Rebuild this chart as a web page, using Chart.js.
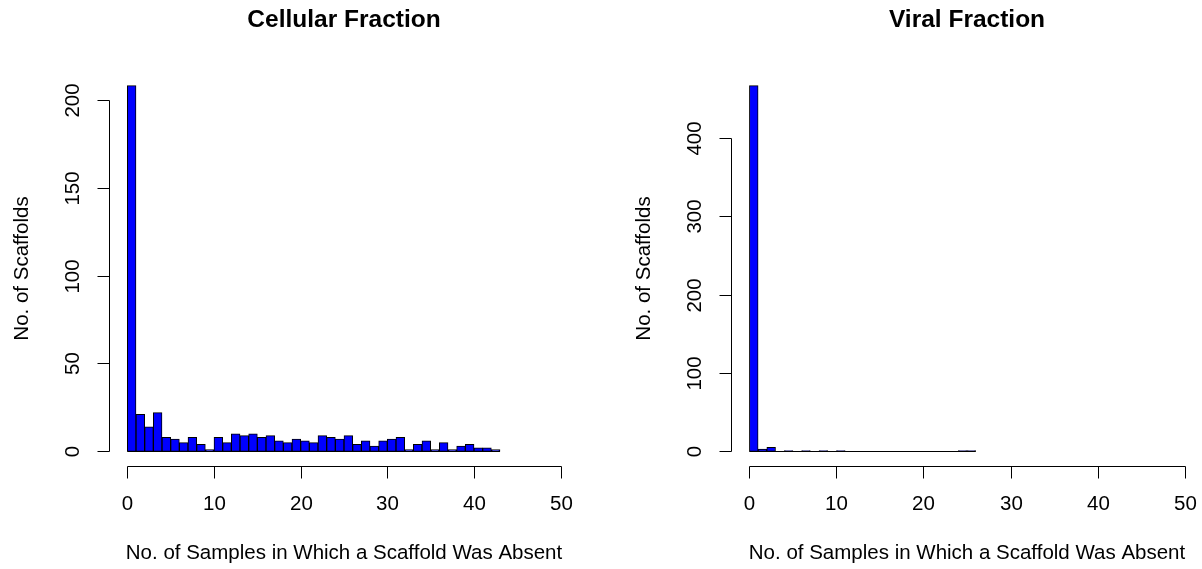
<!DOCTYPE html>
<html>
<head>
<meta charset="utf-8">
<script src="https://cdn.jsdelivr.net/npm/chart.js@4/dist/chart.umd.min.js"></script>
<style>
  body { margin: 0; background: #fff; }
  .panel { position: absolute; top: 0; }
</style>
</head>
<body>
<div class="panel" style="left:0"><canvas id="cellular" width="601" height="569"></canvas></div>
<div class="panel" style="left:601px"><canvas id="viral" width="601" height="569"></canvas></div>
<script>
// histogram counts, one value per 1-sample bin starting at 0
const cellularCounts = [208, 21, 14, 22, 8, 7, 5, 8, 4, 1, 8, 5, 10, 9, 10, 8, 9, 6, 5, 7, 6, 5,
  9, 8, 7, 9, 4, 6, 3, 6, 7, 8, 1, 4, 6, 1, 5, 1, 3, 4, 2, 2, 1];
const viralCounts = [467, 3, 5, 0, 1, 0, 1, 0, 1, 0, 1, 0, 0, 0, 0, 0, 0, 0, 0, 0, 0, 0, 0, 0, 1, 1];

const xTicks = [0, 10, 20, 30, 40, 50];
const cellularYTicks = [0, 50, 100, 150, 200];
const viralYTicks = [0, 100, 200, 300, 400];

const xTitle = 'No. of Samples in Which a Scaffold Was Absent';
const yTitle = 'No. of Scaffolds';
const FONT = '"Liberation Sans", Arial, Helvetica, sans-serif';

// base-graphics style axes: detached lines spanning first..last tick
const rAxes = {
  id: 'rAxes',
  afterDraw(chart, args, opts) {
    const {ctx, chartArea, scales: {x, y}} = chart;
    ctx.save();
    ctx.strokeStyle = '#000';
    ctx.fillStyle = '#000';
    ctx.lineWidth = 1;

    // bottom edge of the bars (zero-count bins show as a line)
    const y0 = Math.round(y.getPixelForValue(0)) + 0.5;
    ctx.beginPath();
    ctx.moveTo(x.getPixelForValue(0), y0);
    ctx.lineTo(x.getPixelForValue(opts.nBins), y0);
    ctx.stroke();

    // x axis
    const xb = Math.round(chartArea.bottom) + 0.5;
    const xs = opts.xTicks.map(v => Math.round(x.getPixelForValue(v)) + 0.5);
    ctx.beginPath();
    ctx.moveTo(xs[0], xb);
    ctx.lineTo(xs[xs.length - 1], xb);
    xs.forEach(px => { ctx.moveTo(px, xb); ctx.lineTo(px, xb + 12); });
    ctx.stroke();
    ctx.font = '20.5px ' + FONT;
    ctx.textAlign = 'center';
    ctx.textBaseline = 'middle';
    opts.xTicks.forEach((v, i) => ctx.fillText(String(v), xs[i], xb + 38));

    // y axis
    const yl = Math.round(chartArea.left) - 0.5;
    const ys = opts.yTicks.map(v => Math.round(y.getPixelForValue(v)) + 0.5);
    ctx.beginPath();
    ctx.moveTo(yl, ys[0]);
    ctx.lineTo(yl, ys[ys.length - 1]);
    ys.forEach(py => { ctx.moveTo(yl, py); ctx.lineTo(yl - 12, py); });
    ctx.stroke();
    opts.yTicks.forEach((v, i) => {
      ctx.save();
      ctx.translate(yl - 36, ys[i]);
      ctx.rotate(-Math.PI / 2);
      ctx.fillText(String(v), 0, 0);
      ctx.restore();
    });

    // titles
    const cx = (chartArea.left + chartArea.right) / 2;
    const cy = (chartArea.top + chartArea.bottom) / 2;
    ctx.fillText(xTitle, cx, xb + 87);
    ctx.save();
    ctx.translate(yl - 87, cy);
    ctx.rotate(-Math.PI / 2);
    ctx.fillText(yTitle, 0, 0);
    ctx.restore();
    ctx.font = 'bold 24.5px ' + FONT;
    ctx.fillText(opts.title, cx, 20);
    ctx.restore();
  }
};

function histogram(id, title, counts, yTicks, pad) {
  const top = Math.max(...counts);
  new Chart(document.getElementById(id), {
    type: 'bar',
    data: {
      datasets: [{
        data: counts.map((c, i) => ({x: i + 0.5, y: c})),
        backgroundColor: '#0000ff',
        borderColor: '#000',
        borderWidth: 1,
        borderSkipped: false,
        barPercentage: 1,
        categoryPercentage: 1
      }]
    },
    options: {
      responsive: false,
      animation: false,
      layout: {padding: pad},
      scales: {
        x: {type: 'linear', min: -2, max: 52, offset: false, grid: {offset: false}, display: false},
        y: {min: -0.04 * top, max: 1.04 * top, display: false}
      },
      plugins: {
        legend: {display: false},
        tooltip: {enabled: false},
        rAxes: {title: title, xTicks: xTicks, yTicks: yTicks, nBins: counts.length}
      }
    },
    plugins: [rAxes]
  });
}

histogram('cellular', 'Cellular Fraction', cellularCounts, cellularYTicks,
  {left: 110, right: 23, top: 71, bottom: 103});
histogram('viral', 'Viral Fraction', viralCounts, viralYTicks,
  {left: 131, right: 0, top: 71, bottom: 103});
</script>
</body>
</html>
